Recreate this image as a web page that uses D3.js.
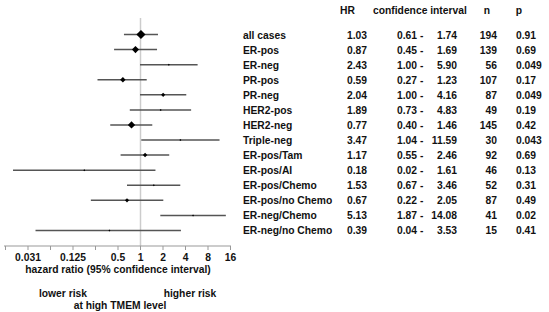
<!DOCTYPE html>
<html>
<head>
<meta charset="utf-8">
<script src="https://cdn.jsdelivr.net/npm/d3@7"></script>
<style>
  body { margin: 0; background: #fff; }
  svg text { font-family: "Liberation Sans", Arial, sans-serif; font-weight: bold; fill: #111; }
</style>
</head>
<body>
<div id="forest"></div>
<script>
// subgroups, top to bottom
const groups = ["all cases", "ER-pos", "ER-neg", "PR-pos", "PR-neg", "HER2-pos", "HER2-neg",
  "Triple-neg", "ER-pos/Tam", "ER-pos/AI", "ER-pos/Chemo", "ER-pos/no Chemo", "ER-neg/Chemo", "ER-neg/no Chemo"];
const hr = [1.03, 0.87, 2.43, 0.59, 2.04, 1.89, 0.77, 3.47, 1.17, 0.18, 1.53, 0.67, 5.13, 0.39];
const ciLow = [0.61, 0.45, 1.00, 0.27, 1.00, 0.73, 0.40, 1.04, 0.55, 0.02, 0.67, 0.22, 1.87, 0.04];
const ciHigh = [1.74, 1.69, 5.90, 1.23, 4.16, 4.83, 1.46, 11.59, 2.46, 1.61, 3.46, 2.05, 14.08, 3.53];
const nCases = [194, 139, 56, 107, 87, 49, 145, 30, 92, 46, 52, 87, 41, 15];
const pValues = ["0.91", "0.69", "0.049", "0.17", "0.049", "0.19", "0.42", "0.043", "0.69", "0.13", "0.31", "0.49", "0.02", "0.41"];
const tickValues = [1/64, 1/32, 1/16, 1/8, 1/4, 1/2, 1, 2, 4, 8, 16];
const tickLabels = {"0.03125": "0.031", "0.125": "0.125", "0.5": "0.5", "1": "1", "2": "2", "4": "4", "8": "8", "16": "16"};

const width = 549, height = 312;
const fontSize = "10.3px";
const svg = d3.select("#forest").append("svg")
    .attr("width", width)
    .attr("height", height);

let x = d3.scaleLog().base(2).domain([1/64, 16]).range([5, 230]);
let y = d3.scaleBand().domain(groups).range([27, 238]);
let markSize = d3.scaleLinear().domain([60, 194]).range([0, 42]).clamp(true);

let rows = groups.map((g, i) => ({
    name: g, hr: hr[i], lo: ciLow[i], hi: ciHigh[i], n: nCases[i], p: pValues[i]
}));

// reference line at HR = 1
svg.append("line")
    .attr("x1", x(1) + 0.5).attr("x2", x(1) + 0.5)
    .attr("y1", 18).attr("y2", 246)
    .style("stroke", "#ccc")
    .style("stroke-width", 1.5);

// axis
let xAxis = d3.axisBottom(x)
    .tickValues(tickValues)
    .tickSize(4)
    .tickFormat(d => tickLabels[String(d)] || "");
let xAx = svg.append("g")
    .attr("transform", "translate(0,246)")
    .call(xAxis);
xAx.select(".domain").attr("d", "M" + (x(1/64) - 1) + ",0H" + (x(16) + 1)).style("stroke", "#999");
xAx.selectAll(".tick line").style("stroke", "#999");
xAx.selectAll(".tick text")
    .attr("y", 8)
    .style("font-size", fontSize)
    .style("font-family", "Liberation Sans, Arial, sans-serif")
    .style("font-weight", "bold")
    .style("fill", "#111");

// confidence intervals
svg.selectAll(".ciLine")
    .data(rows)
    .enter().append("line")
    .attr("class", "ciLine")
    .attr("x1", d => x(d.lo))
    .attr("x2", d => x(d.hi))
    .attr("y1", d => y(d.name) + y.bandwidth() / 2)
    .attr("y2", d => y(d.name) + y.bandwidth() / 2)
    .style("stroke", "#555")
    .style("stroke-width", 1.5);

// point estimates, sized by n
svg.selectAll(".hrMark")
    .data(rows)
    .enter().append("path")
    .attr("class", "hrMark")
    .attr("d", d => d3.symbol().type(d3.symbolSquare).size(Math.max(2, markSize(d.n)))())
    .attr("transform", d => "translate(" + x(d.hr) + "," + (y(d.name) + y.bandwidth() / 2) + ") rotate(45)")
    .style("fill", "#000");

// axis titles
svg.append("text").attr("x", 118).attr("y", 273).attr("text-anchor", "middle")
    .style("font-size", fontSize).text("hazard ratio (95% confidence interval)");
svg.append("text").attr("x", 63).attr("y", 297).attr("text-anchor", "middle")
    .style("font-size", fontSize).text("lower risk");
svg.append("text").attr("x", 190).attr("y", 297).attr("text-anchor", "middle")
    .style("font-size", fontSize).text("higher risk");
svg.append("text").attr("x", 120).attr("y", 309).attr("text-anchor", "middle")
    .style("font-size", fontSize).text("at high TMEM level");

// table
let headers = [
    {t: "HR", x: 340, a: "start"},
    {t: "confidence interval", x: 373, a: "start"},
    {t: "n", x: 487, a: "middle"},
    {t: "p", x: 519, a: "middle"}
];
svg.selectAll(".hdr")
    .data(headers)
    .enter().append("text")
    .attr("class", "hdr")
    .attr("x", d => d.x).attr("y", 14)
    .attr("text-anchor", d => d.a)
    .style("font-size", fontSize)
    .text(d => d.t);

let rowG = svg.selectAll(".row")
    .data(rows)
    .enter().append("g")
    .attr("class", "row")
    .attr("transform", d => "translate(0," + (y(d.name) + y.bandwidth() / 2 + 4) + ")")
    .style("font-size", fontSize);

rowG.append("text").attr("x", 243).text(d => d.name);
rowG.append("text").attr("x", 347).text(d => d.hr.toFixed(2));
rowG.append("text").attr("x", 397).text(d => d.lo.toFixed(2) + " -");
rowG.append("text").attr("x", 457).attr("text-anchor", "end").text(d => d.hi.toFixed(2));
rowG.append("text").attr("x", 497).attr("text-anchor", "end").text(d => d.n);
rowG.append("text").attr("x", 516).text(d => d.p);
</script>
</body>
</html>
